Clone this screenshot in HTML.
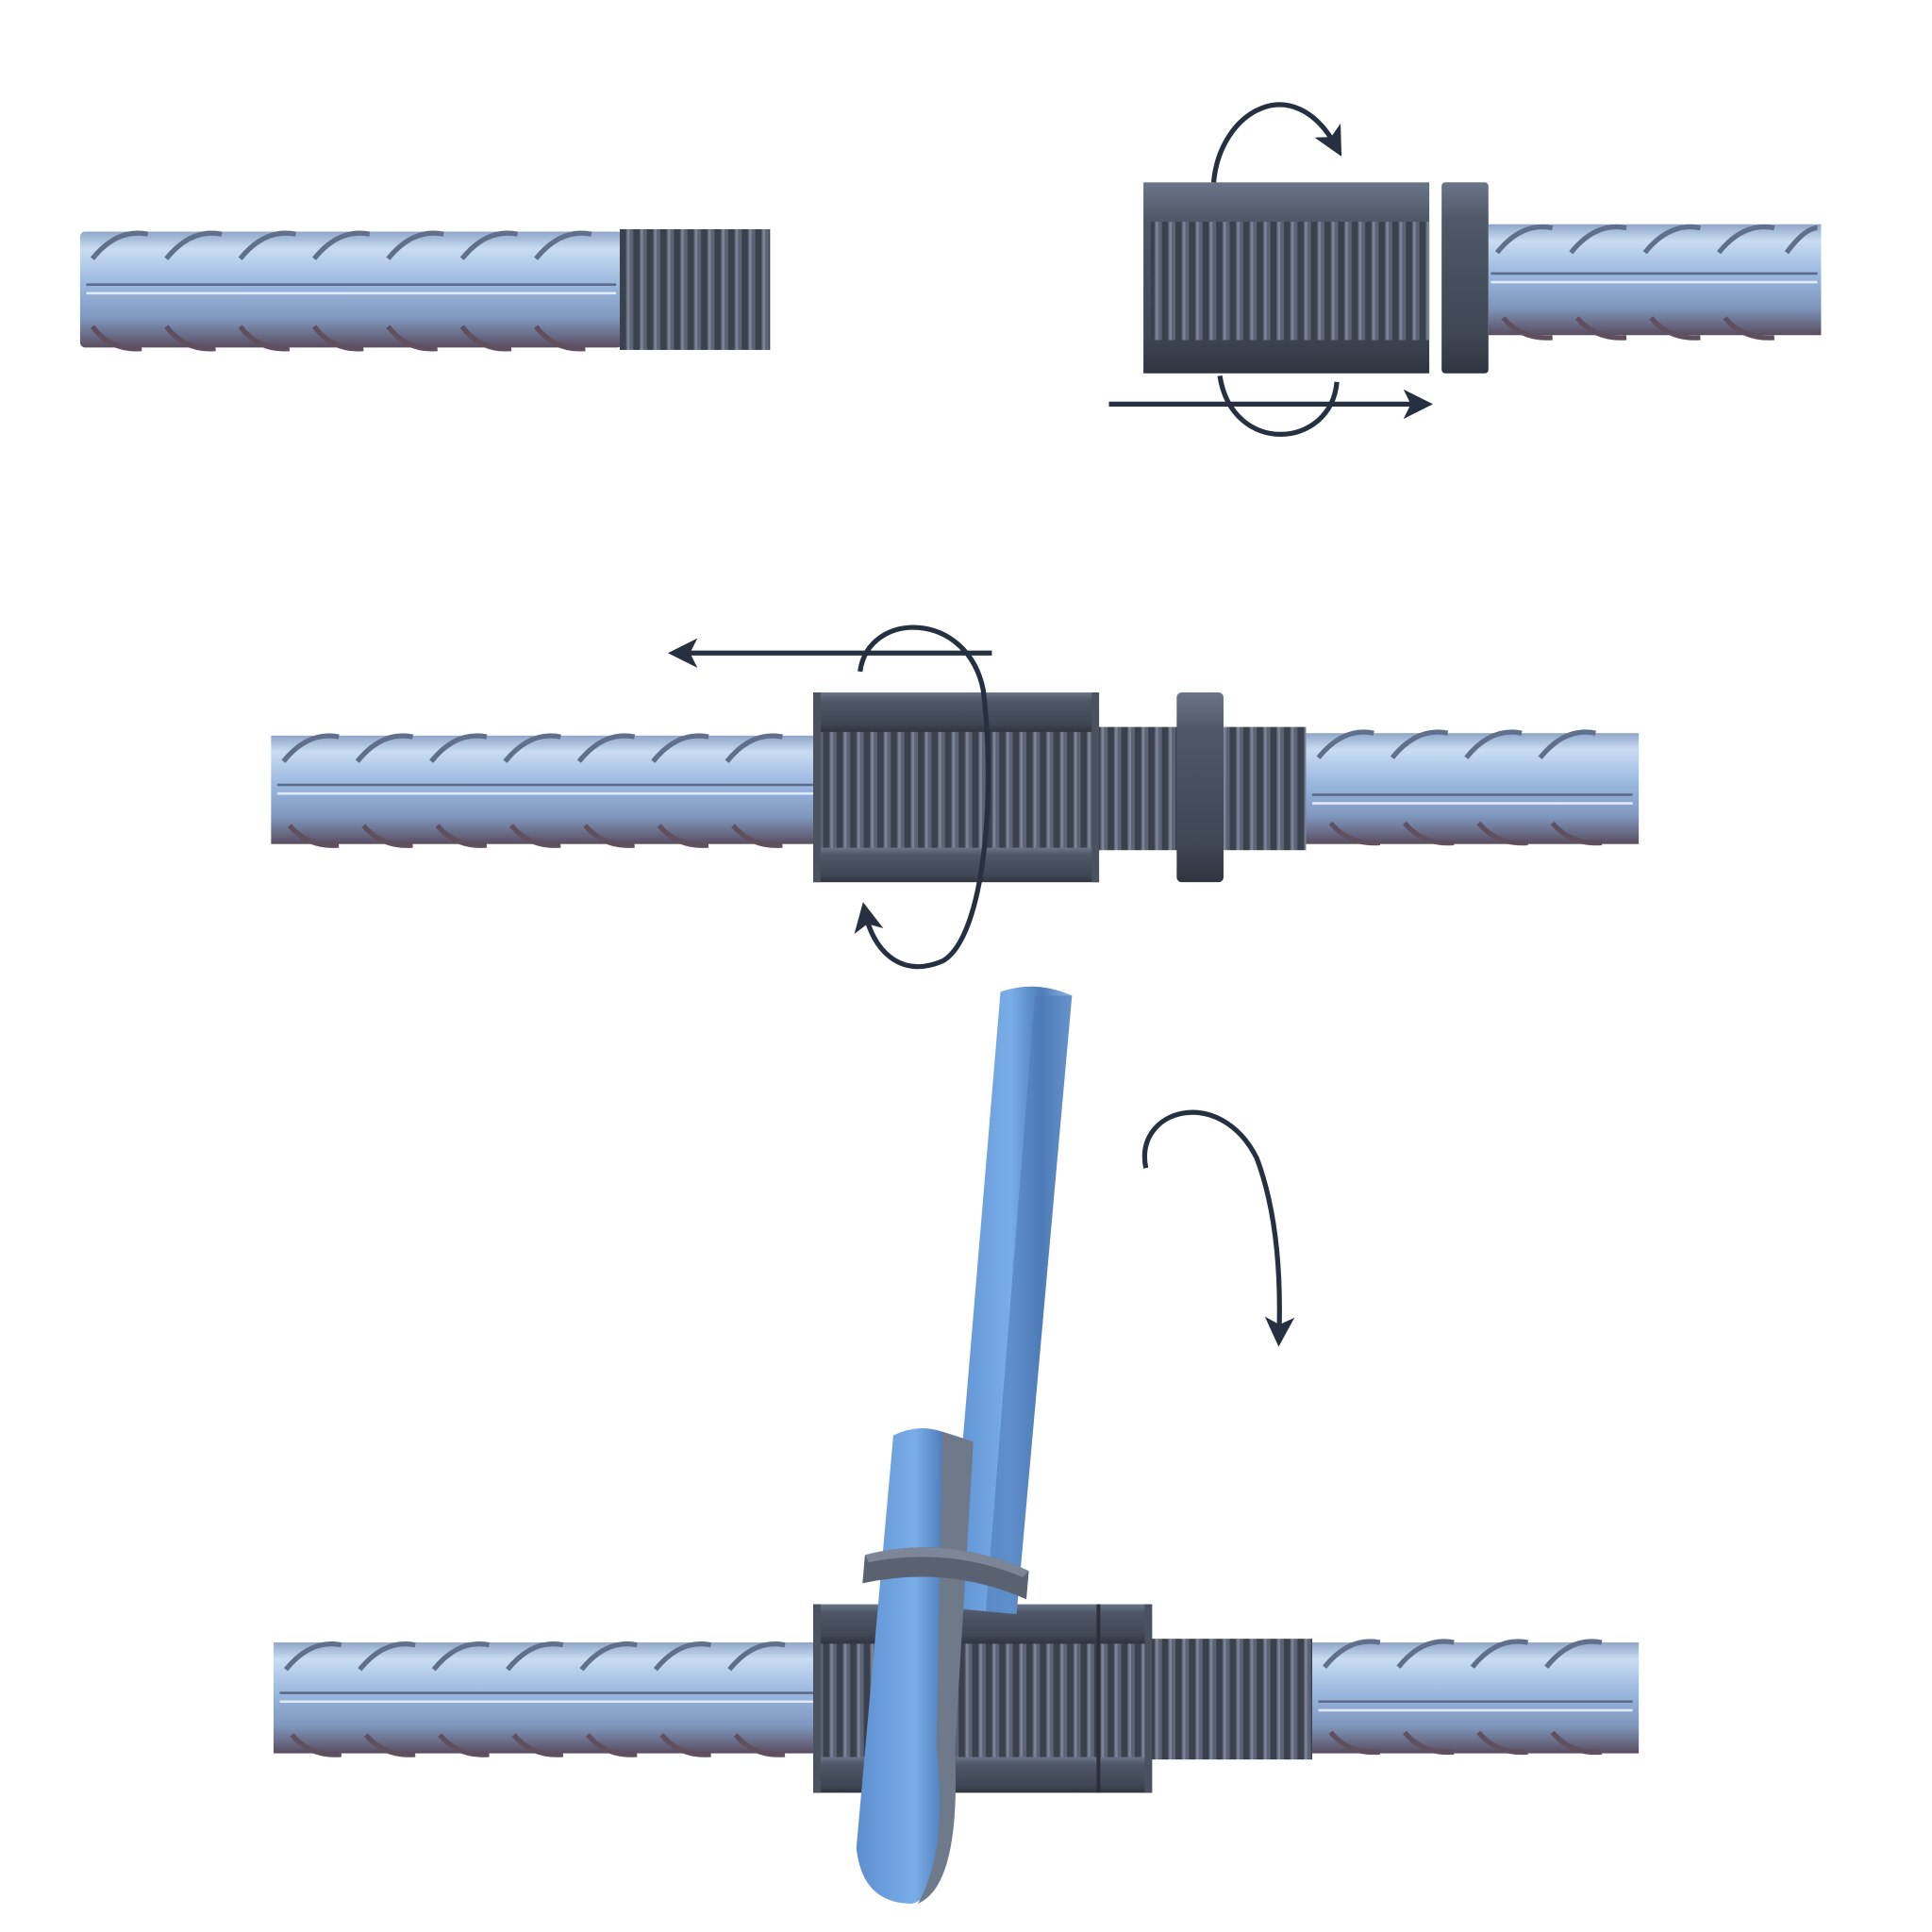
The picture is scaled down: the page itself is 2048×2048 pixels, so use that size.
<!DOCTYPE html>
<html><head><meta charset="utf-8"><style>
html,body{margin:0;padding:0;background:#fff}
svg{display:block}
</style></head><body>
<svg width="2048" height="2048" viewBox="0 0 1568 1568" xmlns="http://www.w3.org/2000/svg">
<defs>
<linearGradient id="rb" x1="0" y1="0" x2="0" y2="1">
<stop offset="0" stop-color="#8fa6c8"/><stop offset="0.15" stop-color="#c9dcf2"/><stop offset="0.45" stop-color="#9ab8e0"/><stop offset="0.75" stop-color="#7f97bd"/><stop offset="1" stop-color="#5a4d60"/>
</linearGradient>
<linearGradient id="cp" x1="0" y1="0" x2="0" y2="1">
<stop offset="0" stop-color="#6a7588"/><stop offset="0.2" stop-color="#4f5868"/><stop offset="0.8" stop-color="#3f4654"/><stop offset="1" stop-color="#2f3440"/>
</linearGradient>
<pattern id="th" width="11" height="200" patternUnits="userSpaceOnUse">
<rect width="11" height="200" fill="#3a404c"/><rect x="2" width="6" height="200" fill="#5b6474"/><rect x="3" width="2" height="200" fill="#7a8496"/>
</pattern>
<linearGradient id="bar" x1="0" y1="0" x2="1" y2="0">
<stop offset="0" stop-color="#5d8fd0"/><stop offset="0.5" stop-color="#7aaee8"/><stop offset="0.75" stop-color="#4f7cb8"/><stop offset="1" stop-color="#8ab6e6"/>
</linearGradient>
<marker id="ah" markerWidth="6" markerHeight="6" refX="4" refY="3" orient="auto" markerUnits="strokeWidth">
<path d="M0,0 L6,3 L0,6 L1.5,3 z" fill="#263040"/>
</marker>
</defs>

<g>
<rect x="65" y="188" width="440" height="94" rx="4" fill="url(#rb)"/>
<line x1="70" y1="231" x2="500" y2="231" stroke="#5a6a88" stroke-width="2"/>
<line x1="70" y1="238" x2="500" y2="238" stroke="#dfeaf8" stroke-width="2"/>
<path d="M75,210 q20,-25 45,-20 M135,210 q20,-25 45,-20 M195,210 q20,-25 45,-20 M255,210 q20,-25 45,-20 M315,210 q20,-25 45,-20 M375,210 q20,-25 45,-20 M435,210 q20,-25 45,-20" stroke="#5f6f8c" stroke-width="4" fill="none"/>
<path d="M75,265 q15,20 40,18 M135,265 q15,20 40,18 M195,265 q15,20 40,18 M255,265 q15,20 40,18 M315,265 q15,20 40,18 M375,265 q15,20 40,18 M435,265 q15,20 40,18" stroke="#5f5060" stroke-width="4" fill="none"/>
<rect x="503" y="186" width="122" height="98" fill="url(#th)"/>
</g>

<g>
<rect x="1208" y="182" width="270" height="90" fill="url(#rb)"/>
<line x1="1210" y1="222" x2="1475" y2="222" stroke="#5a6a88" stroke-width="2"/>
<line x1="1210" y1="229" x2="1475" y2="229" stroke="#dfeaf8" stroke-width="2"/>
<path d="M1215,205 q20,-25 45,-20 M1275,205 q20,-25 45,-20 M1335,205 q20,-25 45,-20 M1395,205 q20,-25 45,-20 M1450,205 q15,-20 25,-20" stroke="#5f6f8c" stroke-width="4" fill="none"/>
<path d="M1220,258 q15,18 40,16 M1280,258 q15,18 40,16 M1340,258 q15,18 40,16 M1400,258 q15,18 40,16" stroke="#5f5060" stroke-width="4" fill="none"/>
<rect x="928" y="148" width="232" height="155" fill="url(#cp)"/>
<rect x="934" y="180" width="226" height="96" fill="url(#th)"/>
<rect x="1170" y="148" width="38" height="155" rx="3" fill="url(#cp)"/>
<path d="M985,148 C990,90 1050,55 1085,120" stroke="#263040" stroke-width="4" fill="none" marker-end="url(#ah)"/>
<path d="M990,305 C1000,370 1080,365 1085,310" stroke="#263040" stroke-width="4" fill="none"/>
<line x1="900" y1="328" x2="1155" y2="328" stroke="#263040" stroke-width="4" marker-end="url(#ah)"/>
</g>

<g>
<rect x="220" y="597" width="445" height="88" fill="url(#rb)"/>
<rect x="1060" y="595" width="270" height="90" fill="url(#rb)"/>
<line x1="225" y1="637" x2="660" y2="637" stroke="#5a6a88" stroke-width="2"/>
<line x1="225" y1="644" x2="660" y2="644" stroke="#dfeaf8" stroke-width="2"/>
<line x1="1065" y1="645" x2="1325" y2="645" stroke="#5a6a88" stroke-width="2"/>
<line x1="1065" y1="652" x2="1325" y2="652" stroke="#dfeaf8" stroke-width="2"/>
<path d="M230,618 q20,-25 45,-20 M290,618 q20,-25 45,-20 M350,618 q20,-25 45,-20 M410,618 q20,-25 45,-20 M470,618 q20,-25 45,-20 M530,618 q20,-25 45,-20 M590,618 q20,-25 45,-20 M1070,615 q20,-25 45,-20 M1130,615 q20,-25 45,-20 M1190,615 q20,-25 45,-20 M1250,615 q20,-25 45,-20" stroke="#5f6f8c" stroke-width="4" fill="none"/>
<path d="M235,670 q15,18 40,16 M295,670 q15,18 40,16 M355,670 q15,18 40,16 M415,670 q15,18 40,16 M475,670 q15,18 40,16 M535,670 q15,18 40,16 M595,670 q15,18 40,16 M1080,668 q15,18 40,16 M1140,668 q15,18 40,16 M1200,668 q15,18 40,16 M1260,668 q15,18 40,16" stroke="#5f5060" stroke-width="4" fill="none"/>
<rect x="660" y="590" width="400" height="100" fill="url(#th)"/>
<rect x="660" y="562" width="232" height="32" fill="url(#cp)"/>
<rect x="660" y="688" width="232" height="28" fill="url(#cp)"/>
<rect x="660" y="562" width="6" height="154" fill="#4a5260"/>
<rect x="886" y="562" width="6" height="154" fill="#4a5260"/>
<rect x="955" y="562" width="38" height="154" rx="4" fill="url(#cp)"/>
<line x1="805" y1="530" x2="550" y2="530" stroke="#263040" stroke-width="4" marker-end="url(#ah)"/>
<path d="M698,545 C705,495 785,495 798,560 C808,640 800,760 765,780 C730,795 708,770 702,740" stroke="#263040" stroke-width="4" fill="none" marker-end="url(#ah)"/>
</g>

<g>
<rect x="222" y="1333" width="445" height="90" fill="url(#rb)"/>
<rect x="1065" y="1333" width="265" height="90" fill="url(#rb)"/>
<line x1="227" y1="1374" x2="660" y2="1374" stroke="#5a6a88" stroke-width="2"/>
<line x1="227" y1="1381" x2="660" y2="1381" stroke="#dfeaf8" stroke-width="2"/>
<line x1="1070" y1="1381" x2="1325" y2="1381" stroke="#5a6a88" stroke-width="2"/>
<line x1="1070" y1="1388" x2="1325" y2="1388" stroke="#dfeaf8" stroke-width="2"/>
<path d="M232,1355 q20,-25 45,-20 M292,1355 q20,-25 45,-20 M352,1355 q20,-25 45,-20 M412,1355 q20,-25 45,-20 M472,1355 q20,-25 45,-20 M532,1355 q20,-25 45,-20 M592,1355 q20,-25 45,-20 M1075,1353 q20,-25 45,-20 M1135,1353 q20,-25 45,-20 M1195,1353 q20,-25 45,-20 M1255,1353 q20,-25 45,-20" stroke="#5f6f8c" stroke-width="4" fill="none"/>
<path d="M237,1408 q15,18 40,16 M297,1408 q15,18 40,16 M357,1408 q15,18 40,16 M417,1408 q15,18 40,16 M477,1408 q15,18 40,16 M537,1408 q15,18 40,16 M597,1408 q15,18 40,16 M1080,1406 q15,18 40,16 M1140,1406 q15,18 40,16 M1200,1406 q15,18 40,16 M1260,1406 q15,18 40,16" stroke="#5f5060" stroke-width="4" fill="none"/>
<rect x="660" y="1330" width="405" height="98" fill="url(#th)"/>
<rect x="660" y="1302" width="275" height="32" fill="url(#cp)"/>
<rect x="660" y="1426" width="275" height="29" fill="url(#cp)"/>
<rect x="660" y="1302" width="6" height="153" fill="#4a5260"/>
<rect x="929" y="1302" width="6" height="153" fill="#4a5260"/>
<rect x="890" y="1302" width="3" height="153" fill="#2a2f3a"/>
<path d="M812,805 Q840,795 870,808 L825,1310 L770,1305 Z" fill="url(#bar)"/>
<path d="M840,808 L870,808 L825,1310 L800,1308 Z" fill="#4f7cb8" opacity="0.6"/>
<path d="M725,1165 Q745,1155 765,1162 L790,1170 L780,1300 Q775,1440 770,1455 Q765,1540 740,1545 Q700,1545 695,1500 Z" fill="url(#bar)"/>
<path d="M765,1162 L790,1170 L775,1420 Q780,1530 745,1545 Q770,1500 760,1420 Z" fill="#6e7a8a"/>
<path d="M702,1262 Q770,1245 835,1275 L833,1298 Q770,1270 700,1285 Z" fill="#5a6272"/>
<path d="M702,1262 Q770,1245 835,1275 L830,1280 Q770,1255 705,1268 Z" fill="#7d8696"/>
<path d="M930,948 C920,900 990,880 1020,940 C1035,980 1040,1030 1038,1085" stroke="#263040" stroke-width="4" fill="none" marker-end="url(#ah)"/>
</g>
</svg>
</body></html>
